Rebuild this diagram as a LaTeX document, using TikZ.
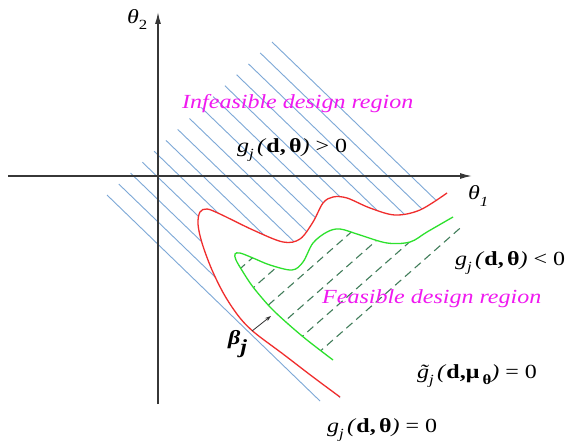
\documentclass[tikz,border=0pt]{standalone}
\usepackage{fontspec}
\setmainfont{Liberation Serif}[FakeStretch=1.2]
\usetikzlibrary{arrows.meta}
\definecolor{hatchblue}{RGB}{125,168,215}
\definecolor{redc}{RGB}{240,45,45}
\definecolor{greenc}{RGB}{45,225,45}
\definecolor{dashg}{RGB}{65,125,90}
\definecolor{magc}{RGB}{240,25,240}
\definecolor{axisc}{RGB}{55,55,55}
\newcommand\lowsub[1]{\raisebox{-0.3em}{\fontsize{14}{14}\selectfont #1}}
\def\redpath{plot[smooth,tension=0.55] coordinates {(447,193) (420,210) (395,215) (370,208) (347,198) (333,197) (323,203) (313,222) (300,239) (283,242) (253,230) (220,214) (207,209) (200,212) (198,224) (202,243) (212,270) (225,296) (240,318) (255,333) (283,354) (313,377) (340,397)}}
\def\greenpath{plot[smooth,tension=0.55] coordinates {(453,217) (427,232) (410,242) (387,243) (360,235) (340,229) (327,232) (313,243) (303,262) (292,270) (270,265) (253,258) (240,253) (235,254) (236,260) (243,272) (253,287) (270,307) (287,323) (307,340) (333,360)}}
\begin{document}
\begin{tikzpicture}[x=1pt,y=-1pt,
  lbl/.style={anchor=base west, inner sep=0pt, font=\fontsize{20}{24}\selectfont},
  reg/.style={anchor=base west, inner sep=0pt, text=magc, font=\fontsize{20}{24}\selectfont\itshape},
  axisline/.style={draw=axisc, line width=1.4pt, -{Latex[length=12pt,width=6pt]}},
  hatch/.style={draw=hatchblue, line width=0.9pt},
  dashline/.style={draw=dashg, line width=1.1pt, dash pattern=on 8pt off 5pt},
  redline/.style={draw=redc, line width=1.3pt},
  greenline/.style={draw=greenc, line width=1.3pt},
  betaarrow/.style={draw=black!80, line width=0.8pt, -{Stealth[length=6pt,width=4pt]}}]
\useasboundingbox (0,0) rectangle (569,446);
\fill[white] (0,0) rectangle (569,446);
% blue hatching outside the limit-state curve
\begin{scope}
  \clip \redpath -- (340,446) -- (0,446) -- (0,0) -- (569,0) -- (569,193) -- cycle;
  \foreach \i in {0,...,13} {
    \draw[hatch] ({272-165*\i/14},{42+153*\i/14}) -- ++(300,289.5);
  }
\end{scope}
\coordinate (hs) at (107,195);
\coordinate (he) at (320,401);
\draw[hatch] (hs) -- (he);
% green dashed hatching inside the feasible region
\begin{scope}
  \clip \greenpath -- (333,446) -- (569,446) -- (569,217) -- cycle;
  \foreach \k in {0,...,5} {
    \pgfmathsetmacro\cc{480+30.6*\k}
    \draw[dashline] (200,{\cc-0.88*200}) -- (463,{\cc-0.88*463});
  }
\end{scope}
% curves
\draw[redline] \redpath;
\draw[greenline] \greenpath;
% axes
\coordinate (yb) at (158,404);
\coordinate (yt) at (158,12);
\coordinate (xl) at (8,176);
\coordinate (xr) at (472,176);
\draw[axisline] (yb) -- (yt);
\draw[axisline] (xl) -- (xr);
% beta arrow
\coordinate (ba) at (252,331);
\coordinate (bb) at (271,316);
\draw[betaarrow] (ba) -- (bb);
% labels
\node[lbl] (t2) at (127,24) {{\itshape θ}\lowsub{2}};
\node[lbl] (t1) at (468,200) {{\itshape θ}\lowsub{\itshape 1}};
\node[reg] (inf) at (182,109) {Infeasible design region};
\node[lbl] (gpos) at (237,152.7) {{\itshape g}\lowsub{\itshape j}\,{\itshape (}\textbf{d,\,θ}{\itshape )} > 0};
\node[lbl] (gneg) at (455,265) {{\itshape g}\lowsub{\itshape j}\,{\itshape (}\textbf{d,\,θ}{\itshape )} < 0};
\node[reg] (fea) at (322,303) {Feasible design region};
\node[lbl] (gmu) at (417,378) {{\itshape \~{g}}\lowsub{\itshape j}\,{\itshape (}\textbf{d,μ}\,\lowsub{\bfseries θ}{\itshape )} = 0};
\node[lbl] (gzero) at (327,432) {{\itshape g}\lowsub{\itshape j}\,{\itshape (}\textbf{d,\,θ}{\itshape )} = 0};
\node[lbl] (beta) at (228,344) {{\bfseries\itshape β}\raisebox{-0.45em}{\bfseries\itshape j}};
\end{tikzpicture}
\end{document}
